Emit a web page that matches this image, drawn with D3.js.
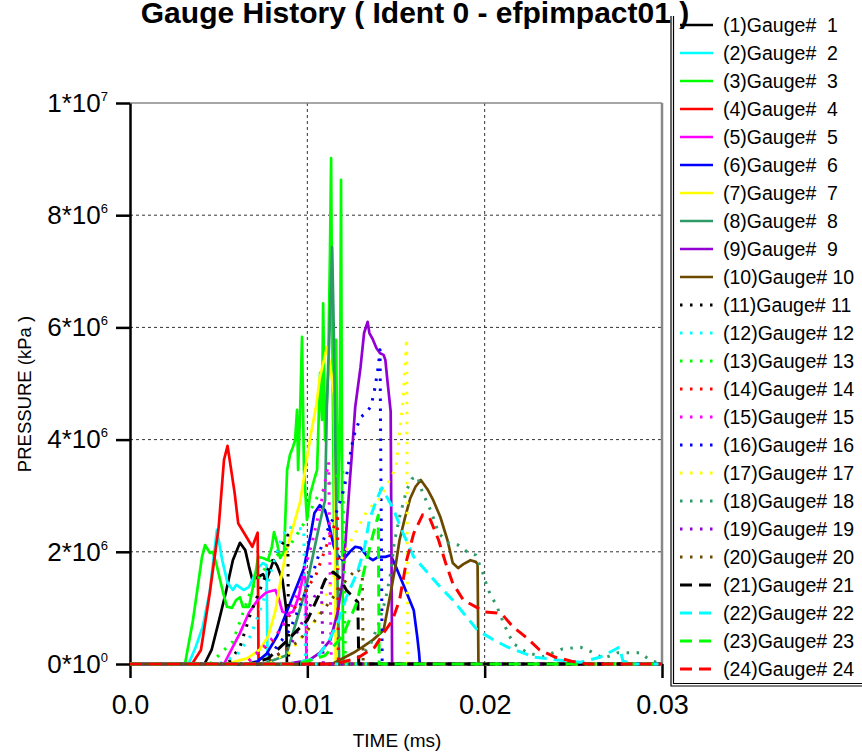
<!DOCTYPE html>
<html lang="en">
<head>
  <meta charset="UTF-8">
  <title>Gauge History</title>
  <script src="https://cdnjs.cloudflare.com/ajax/libs/d3/7.8.5/d3.min.js"></script>
  <style>
    body { margin: 0; background: #fff; }
    svg { font-family: "Liberation Sans", Arial, sans-serif; display: block; }
    .grid line { stroke: #333; stroke-width: 1; stroke-dasharray: 3,3; }
    .axis .domain, .axis .tick line { stroke: #000; stroke-width: 2.5; }
    .axis text { fill: #000; font-size: 26px; }
    .xaxis text { font-size: 27px; }
    .curve { fill: none; stroke-linejoin: round; }
    .legend text { font-size: 19.5px; white-space: pre; fill: #000; }
  </style>
</head>
<body>
  <svg width="862" height="752"></svg>
  <script>
    // time in ms, pressure in units of 10^6 kPa
    var P_UNIT = 1e6

    var xTicks = [0, 0.01, 0.02, 0.03]
    var xTickLabels = ["0.0", "0.01", "0.02", "0.03"]
    var yTicks = [0, 2e6, 4e6, 6e6, 8e6, 1e7]

    var g01 = [[0,0],[0.0042,0],[0.0046,0.25],[0.005,0.75],[0.0054,1.27],[0.0058,1.85],[0.0062,2.16],[0.0065,2.03],[0.0067,1.75],[0.0069,1.5],[0.0072,1.55],[0.0075,1.6],[0.0077,1.5],[0.0081,1.85],[0.0083,1.75],[0.0086,1.5],[0.0088,1.0],[0.00885,0],[0.03,0]]
    var g02 = [[0,0],[0.0033,0],[0.0037,0.3],[0.0041,0.66],[0.0045,1.3],[0.0047,1.85],[0.0049,2.39],[0.0052,1.85],[0.0055,1.45],[0.0058,1.32],[0.006,1.41],[0.0064,1.32],[0.0067,1.37],[0.0069,1.5],[0.0072,1.71],[0.0075,1.8],[0.0077,1.76],[0.00775,0.25],[0.0078,0],[0.03,0]]
    var g03 = [[0,0],[0.0031,0],[0.00355,0.78],[0.00406,1.91],[0.00423,2.12],[0.00451,1.98],[0.00468,2.0],[0.00491,1.73],[0.00525,1.27],[0.00547,1.02],[0.00575,1.0],[0.00598,1.14],[0.0062,1.19],[0.00637,1.02],[0.00671,1.02],[0.00705,1.55],[0.00722,1.91],[0.0075,1.89],[0.00778,1.85],[0.008,2.09],[0.00812,2.35],[0.00829,2.16],[0.00846,1.89],[0.00869,2.0],[0.00886,3.46],[0.00902,3.73],[0.00919,3.87],[0.00931,3.99],[0.00942,4.53],[0.00948,3.46],[0.00959,4.47],[0.0097,5.83],[0.00981,3.46],[0.00998,2.57],[0.01015,3.01],[0.01038,3.28],[0.01055,3.46],[0.01072,5.19],[0.01083,4.35],[0.01089,6.43],[0.011,3.99],[0.01117,5.19],[0.01128,7.38],[0.01134,9.02],[0.01139,6.49],[0.01145,4.35],[0.01151,2.21],[0.01162,5.78],[0.01173,2.92],[0.01184,4.35],[0.0119,8.63],[0.01196,2.92],[0.01201,0.43],[0.01204,0],[0.03,0]]
    var g04 = [[0,0],[0.0035,0],[0.004,0.25],[0.0045,1.27],[0.005,2.44],[0.0053,3.64],[0.0055,3.89],[0.0059,3.05],[0.0061,2.51],[0.0065,2.3],[0.0069,2.09],[0.0072,2.34],[0.00725,0],[0.03,0]]
    var g05 = [[0,0],[0.0053,0],[0.0062,0.55],[0.0067,0.91],[0.0072,1.14],[0.0077,1.28],[0.0082,1.32],[0.0084,1.15],[0.0086,0.93],[0.0089,0.9],[0.0092,0.93],[0.0095,1.19],[0.0098,1.62],[0.0099,1.5],[0.00995,0],[0.03,0]]
    var g06 = [[0,0],[0.0066,0],[0.0072,0.05],[0.0077,0.18],[0.0083,0.5],[0.0088,0.9],[0.0093,1.3],[0.0098,1.7],[0.0102,2.33],[0.0104,2.69],[0.0107,2.83],[0.011,2.74],[0.0112,2.51],[0.0115,2.09],[0.0117,1.94],[0.012,1.85],[0.0124,2.0],[0.0127,2.09],[0.013,2.07],[0.0134,1.91],[0.0137,1.85],[0.014,1.91],[0.0144,1.91],[0.0147,1.94],[0.015,1.73],[0.0153,1.5],[0.0156,1.27],[0.016,0.96],[0.0162,0.48],[0.0163,0.2],[0.01635,0],[0.03,0]]
    var g07 = [[0,0],[0.0054,0],[0.0066,0.1],[0.0073,0.25],[0.0078,0.5],[0.0082,0.95],[0.0085,1.5],[0.0088,2.0],[0.0092,2.45],[0.0096,2.9],[0.0099,3.5],[0.0102,4.1],[0.0105,4.6],[0.0107,5.1],[0.011,5.5],[0.0111,5.65],[0.0113,5.3],[0.0115,4.8],[0.01155,3.4],[0.0116,0],[0.03,0]]
    var g08 = [[0,0],[0.0075,0],[0.0088,0.15],[0.0094,0.78],[0.0099,1.32],[0.0103,1.91],[0.0107,2.51],[0.011,2.92],[0.0111,4.58],[0.0113,6.36],[0.0114,7.43],[0.0115,5.78],[0.0116,3.4],[0.0117,1.5],[0.0118,0],[0.03,0]]
    var g09 = [[0,0],[0.0088,0],[0.0101,0.07],[0.0107,0.2],[0.0113,0.43],[0.0117,0.91],[0.012,1.5],[0.0122,2.39],[0.0124,3.28],[0.0125,3.69],[0.0127,4.58],[0.013,5.29],[0.0132,5.9],[0.0134,6.1],[0.0135,5.9],[0.0137,5.78],[0.0139,5.63],[0.0141,5.54],[0.0143,5.51],[0.0144,5.42],[0.0145,5.1],[0.0147,4.5],[0.01478,0],[0.03,0]]
    var g10 = [[0,0],[0.0114,0],[0.0126,0.2],[0.0131,0.3],[0.0137,0.43],[0.0143,0.6],[0.0147,1.27],[0.015,1.8],[0.0152,2.21],[0.0155,2.6],[0.0158,2.95],[0.0161,3.16],[0.0164,3.28],[0.0168,3.1],[0.0171,2.92],[0.0175,2.62],[0.0179,2.21],[0.0182,1.8],[0.0185,1.71],[0.0188,1.78],[0.0192,1.85],[0.0195,1.82],[0.0196,1.78],[0.01965,0],[0.03,0]]
    var g11 = [[0,0],[0.0055,0],[0.0062,0.3],[0.0068,0.9],[0.0073,1.3],[0.0078,1.7],[0.0083,2.0],[0.0087,2.2],[0.0089,2.3],[0.00895,0],[0.03,0]]
    var g12 = [[0,0],[0.005,0],[0.006,0.15],[0.0068,0.5],[0.0075,1.1],[0.008,1.7],[0.0085,2.2],[0.0089,2.45],[0.0094,2.4],[0.0098,2.42],[0.0099,0],[0.03,0]]
    var g13 = [[0,0],[0.0045,0],[0.0058,0.4],[0.0068,1.3],[0.0079,1.85],[0.009,2.1],[0.0098,2.5],[0.0106,3.0],[0.0115,3.3],[0.012,3.45],[0.01215,0],[0.03,0]]
    var g14 = [[0,0],[0.0065,0],[0.008,0.4],[0.0095,1.1],[0.0105,1.6],[0.0113,2.3],[0.0117,2.6],[0.01175,0],[0.03,0]]
    var g15 = [[0,0],[0.0065,0],[0.0085,0.6],[0.0095,1.3],[0.0103,2.2],[0.0108,2.9],[0.0112,3.6],[0.01135,0],[0.03,0]]
    var g16 = [[0,0],[0.0068,0],[0.008,0.2],[0.009,0.6],[0.0098,1.2],[0.0104,1.7],[0.011,2.3],[0.0117,2.75],[0.0121,3.16],[0.0124,3.7],[0.0126,4.05],[0.013,4.4],[0.0133,4.47],[0.0136,4.6],[0.0138,4.9],[0.014,5.3],[0.0141,5.6],[0.01422,0],[0.03,0]]
    var g17 = [[0,0],[0.0075,0],[0.009,0.2],[0.0105,0.8],[0.0118,1.8],[0.0128,2.4],[0.0134,2.75],[0.0141,2.95],[0.0146,3.25],[0.015,3.5],[0.0152,4.1],[0.0154,4.7],[0.0155,5.3],[0.0156,5.8],[0.01565,0],[0.03,0]]
    var g18 = [[0,0],[0.0125,0],[0.0135,0.3],[0.014,0.7],[0.0144,1.14],[0.0147,1.62],[0.0149,2.16],[0.0152,2.62],[0.0156,3.1],[0.0159,3.3],[0.0162,3.35],[0.0165,3.05],[0.017,2.71],[0.0174,2.33],[0.018,2.15],[0.0185,2.12],[0.019,2.0],[0.0195,1.94],[0.0199,1.62],[0.0202,1.32],[0.0207,1.02],[0.0211,0.7],[0.0216,0.37],[0.0224,0.2],[0.0233,0.13],[0.0244,0.27],[0.0254,0.3],[0.026,0.22],[0.0267,0.1],[0.0275,0.2],[0.0288,0.2],[0.0293,0.07],[0.03,0]]
    var g19 = [[0,0],[0.0075,0],[0.009,0.3],[0.0098,0.8],[0.0104,1.2],[0.0108,1.3],[0.0109,0],[0.03,0]]
    var g20 = [[0,0],[0.0075,0],[0.0095,0.4],[0.011,1.0],[0.0122,1.5],[0.0128,1.7],[0.0131,1.6],[0.01315,0],[0.03,0]]
    var g21 = [[0,0],[0.0068,0],[0.0078,0.1],[0.0088,0.4],[0.01,0.78],[0.0106,1.19],[0.011,1.5],[0.01145,1.64],[0.0118,1.55],[0.0122,1.32],[0.0127,1.15],[0.01285,1.1],[0.0129,0],[0.03,0]]
    var g22 = [[0,0],[0.009,0],[0.0105,0.1],[0.0112,0.4],[0.0118,0.8],[0.0122,1.19],[0.0128,1.62],[0.0132,2.03],[0.0135,2.57],[0.0139,2.92],[0.0142,3.14],[0.0148,2.8],[0.0154,2.33],[0.016,1.91],[0.0168,1.62],[0.0175,1.37],[0.0182,1.14],[0.0188,0.91],[0.0196,0.6],[0.0205,0.43],[0.0213,0.3],[0.0228,0.12],[0.0254,0.03],[0.0265,0.12],[0.0273,0.25],[0.0276,0.3],[0.0278,0.05],[0.0285,0],[0.03,0]]
    var g23 = [[0,0],[0.0095,0],[0.011,0.15],[0.012,0.5],[0.0128,1.1],[0.0133,1.8],[0.0137,2.3],[0.014,2.65],[0.01405,0],[0.03,0]]
    var g24 = [[0,0],[0.0115,0],[0.0128,0.1],[0.0138,0.3],[0.0143,0.55],[0.0148,0.78],[0.0152,1.14],[0.0156,1.85],[0.016,2.33],[0.0165,2.66],[0.0169,2.6],[0.0174,2.21],[0.0178,1.8],[0.0182,1.44],[0.0188,1.14],[0.0196,1.0],[0.02,0.93],[0.0207,0.91],[0.021,0.88],[0.0216,0.66],[0.0224,0.46],[0.0231,0.25],[0.024,0.12],[0.0249,0.05],[0.0258,0],[0.03,0]]

    var gauges = [g01, g02, g03, g04, g05, g06, g07, g08, g09, g10, g11, g12,
                  g13, g14, g15, g16, g17, g18, g19, g20, g21, g22, g23, g24]
    var gaugeIds = d3.range(1, 25)

    // line colours cycle every 10 gauges: solid, dotted, dashed
    var baseColors = ["#000000", "#00ffff", "#00ff00", "#ff0000", "#ff00ff",
                      "#0000ff", "#ffff00", "#2e9a68", "#9400d3", "#6b4a00"]
    function color(i) { return baseColors[i % 10] }
    function dash(i) { return i < 10 ? null : (i < 20 ? "2.5,7.5" : "12,7") }
    function width(i) { return i < 10 ? 2.7 : 3 }

    var svg = d3.select("svg")
    var x = d3.scaleLinear().domain([0, 0.03]).range([130, 662])
    var y = d3.scaleLinear().domain([0, 1e7]).range([664, 103])

    // grid
    var grid = svg.append("g").attr("class", "grid")
    grid.selectAll(".gy").data(yTicks.filter(d => d > 0 && d < 1e7)).enter()
        .append("line")
        .attr("x1", x(0)).attr("x2", x(0.03))
        .attr("y1", d => y(d)).attr("y2", d => y(d))
    grid.selectAll(".gx").data(xTicks.filter(d => d > 0 && d < 0.03)).enter()
        .append("line")
        .attr("y1", y(0)).attr("y2", y(1e7))
        .attr("x1", d => x(d)).attr("x2", d => x(d))

    // top / right frame
    svg.append("line").attr("x1", x(0)).attr("x2", x(0.03)).attr("y1", y(1e7)).attr("y2", y(1e7))
       .attr("stroke", "#888").attr("stroke-width", 1.5)
    svg.append("line").attr("x1", x(0.03)).attr("x2", x(0.03)).attr("y1", y(1e7)).attr("y2", y(0))
       .attr("stroke", "#888").attr("stroke-width", 2.5)

    // axes
    var yAxis = svg.append("g").attr("class", "axis")
       .attr("transform", "translate(" + x(0) + ",0)")
       .call(d3.axisLeft(y).tickValues(yTicks).tickSize(14).tickSizeOuter(0).tickPadding(8))
    yAxis.selectAll(".tick text").each(function (d) {
      var e = d === 0 ? 0 : Math.floor(Math.log10(d) + 1e-9)
      var m = d === 0 ? 0 : Math.round(d / Math.pow(10, e))
      var t = d3.select(this).text(null)
      t.append("tspan").text(m + "*10")
      t.append("tspan").attr("dy", -11).attr("font-size", 13).text(e)
    })

    svg.append("g").attr("class", "axis xaxis")
       .attr("transform", "translate(0," + y(0) + ")")
       .call(d3.axisBottom(x).tickValues(xTicks).tickSize(14).tickSizeOuter(0).tickPadding(17)
               .tickFormat((d, i) => xTickLabels[i]))

    svg.append("text")
       .attr("x", 397).attr("y", 747)
       .attr("text-anchor", "middle").attr("font-size", 19)
       .text("TIME (ms)")
    svg.append("text")
       .attr("transform", "translate(31,394) rotate(-90)")
       .attr("text-anchor", "middle").attr("font-size", 18.5)
       .text("PRESSURE (kPa )")

    // curves
    var line = d3.line().x(d => x(d[0])).y(d => y(d[1] * P_UNIT))
    svg.append("g").selectAll("path").data(gauges).enter()
       .append("path")
       .attr("class", "curve")
       .attr("d", line)
       .attr("stroke", (d, i) => color(i))
       .attr("stroke-width", (d, i) => width(i))
       .attr("stroke-dasharray", (d, i) => dash(i))

    // legend
    var lg = svg.append("g").attr("class", "legend")
    lg.append("path").attr("d", "M671,16V686H870").attr("fill", "none").attr("stroke", "#000").attr("stroke-width", 1.2)
    lg.append("path").attr("d", "M673.5,16V683.5H870").attr("fill", "none").attr("stroke", "#000").attr("stroke-width", 1.2)

    var rows = lg.selectAll(".row").data(gaugeIds).enter()
       .append("g").attr("transform", (d, i) => "translate(0," + (25 + 28 * i) + ")")
    rows.append("line")
        .attr("x1", 680).attr("x2", 713)
        .attr("stroke", (d, i) => color(i))
        .attr("stroke-width", (d, i) => width(i))
        .attr("stroke-dasharray", (d, i) => dash(i))
    rows.append("text")
        .attr("x", 723).attr("y", 7)
        .text(d => "(" + d + ")Gauge# " + (d < 10 ? " " + d : d))

    // title last, it runs over the legend edge
    svg.append("text")
       .attr("x", 415).attr("y", 23)
       .attr("text-anchor", "middle")
       .attr("font-weight", "bold").attr("font-size", 30)
       .text("Gauge History ( Ident 0 - efpimpact01 )")
  </script>
</body>
</html>
